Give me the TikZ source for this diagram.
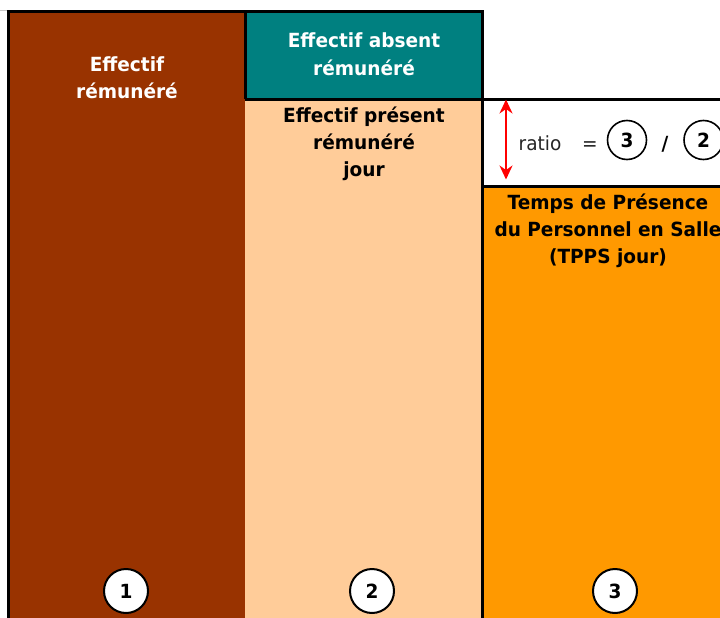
\documentclass[tikz,border=0pt]{standalone}
\usepackage{fontspec}
\setmainfont{DejaVu Sans}
\newfontfamily\labelfont[FakeStretch=0.95]{DejaVu Sans}
\usetikzlibrary{arrows.meta}
\definecolor{brun}{HTML}{993300}
\definecolor{sarcelle}{HTML}{008080}
\definecolor{peche}{HTML}{FFCC99}
\definecolor{orangevif}{HTML}{FF9900}
\definecolor{ombre}{HTML}{C8C8C8}
\begin{document}
\begin{tikzpicture}[x=1pt,y=-1pt,
  border/.style={line width=3pt,line join=miter},
  lbl/.style={font=\labelfont\fontsize{19.5}{22}\selectfont\bfseries,inner sep=0pt,anchor=base},
  plain/.style={font=\labelfont\fontsize{19.5}{22}\selectfont,inner sep=0pt,anchor=base,text=black!85},
  numbig/.style={circle,draw=black,line width=2pt,fill=white,minimum size=44pt,inner sep=0pt,
    font=\labelfont\fontsize{19.5}{22}\selectfont\bfseries},
  numsmall/.style={circle,draw=black,line width=1.6pt,fill=white,minimum size=39pt,inner sep=0pt,
    font=\labelfont\fontsize{19.5}{22}\selectfont\bfseries},
  dbl/.style={red,line width=2pt,{Stealth[length=14pt,width=13pt]}-{Stealth[length=14pt,width=13pt]}}
]
\useasboundingbox (0,0) rectangle (720,618);

% column fills
\fill[brun]       (8,12)   rectangle (245,630);
\fill[sarcelle]   (245,12) rectangle (482,99);
\fill[peche]      (245,99) rectangle (482,630);
\fill[white]      (482,99) rectangle (730,186);
\fill[orangevif]  (482,186) rectangle (730,630);

% thin shadow line above the frame
\draw[ombre,line width=1pt] (0,10.5) -- (483,10.5);

% black frame lines
\draw[border] (8,630) -- (8,12) -- (482,12) -- (482,630);
\draw[border] (245,12) -- (245,99);
\draw[border] (245,99) -- (730,99);
\draw[border] (482,186) -- (730,186);

% column 1 label
\node[lbl,text=white] (c1a) at (127,71) {Effectif};
\node[lbl,text=white] (c1b) at (127,99) {rémunéré};

% absent staff label
\node[lbl,text=white] (absa) at (364,48) {Effectif absent};
\node[lbl,text=white] (absb) at (364,76) {rémunéré};

% column 2 label
\node[lbl] (c2a) at (364,122) {Effectif présent};
\node[lbl] (c2b) at (364,149) {rémunéré};
\node[lbl] (c2c) at (364,176) {jour};

% column 3 label
\node[lbl] (c3a) at (608,209) {Temps de Présence};
\node[lbl] (c3b) at (608,236.5) {du Personnel en Salle};
\node[lbl] (c3c) at (608,263.5) {(TPPS jour)};

% ratio formula
\coordinate (arrTop) at (506,99.5);
\coordinate (arrBot) at (506,179.5);
\draw[dbl] (arrTop) -- (arrBot);
\node[plain] (ratio) at (540,150) {ratio};
\node[plain] (eq) at (590,150) {=};
\node[numsmall] (r3) at (627,140) {3};
\node[lbl] (slash) at (665,150) {/};
\node[numsmall] (r2) at (703.5,140) {2};

% column numbers
\node[numbig] (n1) at (126,591) {1};
\node[numbig] (n2) at (372,591) {2};
\node[numbig] (n3) at (615,591) {3};
\end{tikzpicture}
\end{document}
